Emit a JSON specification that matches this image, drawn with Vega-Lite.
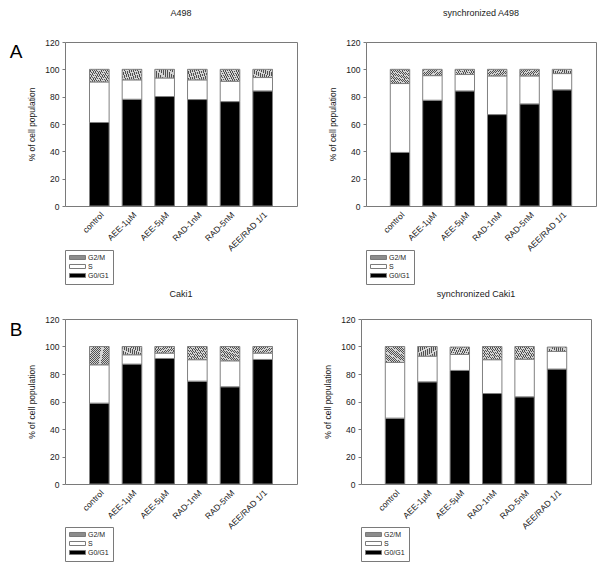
{
  "$schema": "https://vega.github.io/schema/vega-lite/v6.json",
  "padding": {"left": 9, "top": 8, "right": 0, "bottom": 0},
  "background": "white",
  "datasets": {
    "a498": [
      {"treatment": "control", "phase": "G0/G1", "ord": 1, "value": 61.1},
      {"treatment": "control", "phase": "S", "ord": 2, "value": 29.7},
      {"treatment": "control", "phase": "G2/M", "ord": 3, "value": 9.2},
      {"treatment": "AEE-1µM", "phase": "G0/G1", "ord": 1, "value": 78.1},
      {"treatment": "AEE-1µM", "phase": "S", "ord": 2, "value": 14.2},
      {"treatment": "AEE-1µM", "phase": "G2/M", "ord": 3, "value": 7.7},
      {"treatment": "AEE-5µM", "phase": "G0/G1", "ord": 1, "value": 80.1},
      {"treatment": "AEE-5µM", "phase": "S", "ord": 2, "value": 13.6},
      {"treatment": "AEE-5µM", "phase": "G2/M", "ord": 3, "value": 6.3},
      {"treatment": "RAD-1nM", "phase": "G0/G1", "ord": 1, "value": 77.9},
      {"treatment": "RAD-1nM", "phase": "S", "ord": 2, "value": 14.4},
      {"treatment": "RAD-1nM", "phase": "G2/M", "ord": 3, "value": 7.7},
      {"treatment": "RAD-5nM", "phase": "G0/G1", "ord": 1, "value": 76.4},
      {"treatment": "RAD-5nM", "phase": "S", "ord": 2, "value": 14.9},
      {"treatment": "RAD-5nM", "phase": "G2/M", "ord": 3, "value": 8.7},
      {"treatment": "AEE/RAD 1/1", "phase": "G0/G1", "ord": 1, "value": 84.2},
      {"treatment": "AEE/RAD 1/1", "phase": "S", "ord": 2, "value": 9.8},
      {"treatment": "AEE/RAD 1/1", "phase": "G2/M", "ord": 3, "value": 6.0}
    ],
    "sa498": [
      {"treatment": "control", "phase": "G0/G1", "ord": 1, "value": 39.2},
      {"treatment": "control", "phase": "S", "ord": 2, "value": 50.4},
      {"treatment": "control", "phase": "G2/M", "ord": 3, "value": 10.4},
      {"treatment": "AEE-1µM", "phase": "G0/G1", "ord": 1, "value": 77.4},
      {"treatment": "AEE-1µM", "phase": "S", "ord": 2, "value": 18.0},
      {"treatment": "AEE-1µM", "phase": "G2/M", "ord": 3, "value": 4.6},
      {"treatment": "AEE-5µM", "phase": "G0/G1", "ord": 1, "value": 84.2},
      {"treatment": "AEE-5µM", "phase": "S", "ord": 2, "value": 12.0},
      {"treatment": "AEE-5µM", "phase": "G2/M", "ord": 3, "value": 3.8},
      {"treatment": "RAD-1nM", "phase": "G0/G1", "ord": 1, "value": 66.9},
      {"treatment": "RAD-1nM", "phase": "S", "ord": 2, "value": 28.3},
      {"treatment": "RAD-1nM", "phase": "G2/M", "ord": 3, "value": 4.8},
      {"treatment": "RAD-5nM", "phase": "G0/G1", "ord": 1, "value": 74.7},
      {"treatment": "RAD-5nM", "phase": "S", "ord": 2, "value": 20.5},
      {"treatment": "RAD-5nM", "phase": "G2/M", "ord": 3, "value": 4.8},
      {"treatment": "AEE/RAD 1/1", "phase": "G0/G1", "ord": 1, "value": 85.0},
      {"treatment": "AEE/RAD 1/1", "phase": "S", "ord": 2, "value": 11.9},
      {"treatment": "AEE/RAD 1/1", "phase": "G2/M", "ord": 3, "value": 3.1}
    ],
    "caki": [
      {"treatment": "control", "phase": "G0/G1", "ord": 1, "value": 58.8},
      {"treatment": "control", "phase": "S", "ord": 2, "value": 27.9},
      {"treatment": "control", "phase": "G2/M", "ord": 3, "value": 13.3},
      {"treatment": "AEE-1µM", "phase": "G0/G1", "ord": 1, "value": 87.2},
      {"treatment": "AEE-1µM", "phase": "S", "ord": 2, "value": 6.8},
      {"treatment": "AEE-1µM", "phase": "G2/M", "ord": 3, "value": 6.0},
      {"treatment": "AEE-5µM", "phase": "G0/G1", "ord": 1, "value": 91.3},
      {"treatment": "AEE-5µM", "phase": "S", "ord": 2, "value": 3.9},
      {"treatment": "AEE-5µM", "phase": "G2/M", "ord": 3, "value": 4.8},
      {"treatment": "RAD-1nM", "phase": "G0/G1", "ord": 1, "value": 74.8},
      {"treatment": "RAD-1nM", "phase": "S", "ord": 2, "value": 15.6},
      {"treatment": "RAD-1nM", "phase": "G2/M", "ord": 3, "value": 9.6},
      {"treatment": "RAD-5nM", "phase": "G0/G1", "ord": 1, "value": 70.7},
      {"treatment": "RAD-5nM", "phase": "S", "ord": 2, "value": 18.9},
      {"treatment": "RAD-5nM", "phase": "G2/M", "ord": 3, "value": 10.4},
      {"treatment": "AEE/RAD 1/1", "phase": "G0/G1", "ord": 1, "value": 90.6},
      {"treatment": "AEE/RAD 1/1", "phase": "S", "ord": 2, "value": 4.6},
      {"treatment": "AEE/RAD 1/1", "phase": "G2/M", "ord": 3, "value": 4.8}
    ],
    "scaki": [
      {"treatment": "control", "phase": "G0/G1", "ord": 1, "value": 47.9},
      {"treatment": "control", "phase": "S", "ord": 2, "value": 40.5},
      {"treatment": "control", "phase": "G2/M", "ord": 3, "value": 11.6},
      {"treatment": "AEE-1µM", "phase": "G0/G1", "ord": 1, "value": 74.3},
      {"treatment": "AEE-1µM", "phase": "S", "ord": 2, "value": 18.7},
      {"treatment": "AEE-1µM", "phase": "G2/M", "ord": 3, "value": 7.0},
      {"treatment": "AEE-5µM", "phase": "G0/G1", "ord": 1, "value": 82.6},
      {"treatment": "AEE-5µM", "phase": "S", "ord": 2, "value": 11.6},
      {"treatment": "AEE-5µM", "phase": "G2/M", "ord": 3, "value": 5.4},
      {"treatment": "RAD-1nM", "phase": "G0/G1", "ord": 1, "value": 65.8},
      {"treatment": "RAD-1nM", "phase": "S", "ord": 2, "value": 24.6},
      {"treatment": "RAD-1nM", "phase": "G2/M", "ord": 3, "value": 9.6},
      {"treatment": "RAD-5nM", "phase": "G0/G1", "ord": 1, "value": 63.4},
      {"treatment": "RAD-5nM", "phase": "S", "ord": 2, "value": 27.4},
      {"treatment": "RAD-5nM", "phase": "G2/M", "ord": 3, "value": 9.2},
      {"treatment": "AEE/RAD 1/1", "phase": "G0/G1", "ord": 1, "value": 83.6},
      {"treatment": "AEE/RAD 1/1", "phase": "S", "ord": 2, "value": 12.8},
      {"treatment": "AEE/RAD 1/1", "phase": "G2/M", "ord": 3, "value": 3.2}
    ]
  },
  "vconcat": [
    {
      "title": {"text": "A", "orient": "left", "anchor": "end", "angle": 0, "fontSize": 19, "align": "left", "baseline": "top", "offset": 5, "dy": 34, "color": "#000"},
      "spacing": 30,
      "resolve": {"scale": {"fill": "independent"}},
      "hconcat": [
        {
          "title": "A498",
          "width": 232, "height": 164,
          "data": {"name": "a498"},
          "mark": {"type": "bar", "stroke": "#808080", "strokeWidth": 1},
          "encoding": {
            "x": {"field": "treatment", "type": "nominal", "sort": ["control", "AEE-1µM", "AEE-5µM", "RAD-1nM", "RAD-5nM", "AEE/RAD 1/1"], "scale": {"paddingInner": 0.4, "paddingOuter": 0.75}, "axis": {"title": null, "labelAngle": -45, "ticks": false, "domain": false, "labelPadding": 4}},
            "y": {"field": "value", "type": "quantitative", "stack": "zero", "scale": {"domain": [0, 120], "nice": false}, "axis": {"title": "% of cell population", "values": [0, 20, 40, 60, 80, 100, 120], "tickSize": 3, "domain": false, "labelPadding": 3, "titlePadding": 8}},
            "fill": {"field": "phase", "type": "nominal", "scale": {"domain": ["G2/M", "S", "G0/G1"], "range": ["#8c8c8c", "#ffffff", "#000000"]}, "legend": {"title": null, "orient": "none", "legendX": 0, "legendY": 208},
              "condition": {"test": "datum.phase === 'G2/M'", "value": {"gradient": "linear", "x1": 0, "y1": 0, "x2": 1, "y2": 1, "stops": [
                {"offset": 0, "color": "#505050"}, {"offset": 0.0222, "color": "#505050"}, {"offset": 0.0222, "color": "#d4d4d4"}, {"offset": 0.0556, "color": "#d4d4d4"},
                {"offset": 0.0556, "color": "#505050"}, {"offset": 0.0778, "color": "#505050"}, {"offset": 0.0778, "color": "#d4d4d4"}, {"offset": 0.1111, "color": "#d4d4d4"},
                {"offset": 0.1111, "color": "#505050"}, {"offset": 0.1333, "color": "#505050"}, {"offset": 0.1333, "color": "#d4d4d4"}, {"offset": 0.1667, "color": "#d4d4d4"},
                {"offset": 0.1667, "color": "#505050"}, {"offset": 0.1889, "color": "#505050"}, {"offset": 0.1889, "color": "#d4d4d4"}, {"offset": 0.2222, "color": "#d4d4d4"},
                {"offset": 0.2222, "color": "#505050"}, {"offset": 0.2444, "color": "#505050"}, {"offset": 0.2444, "color": "#d4d4d4"}, {"offset": 0.2778, "color": "#d4d4d4"},
                {"offset": 0.2778, "color": "#505050"}, {"offset": 0.3, "color": "#505050"}, {"offset": 0.3, "color": "#d4d4d4"}, {"offset": 0.3333, "color": "#d4d4d4"},
                {"offset": 0.3333, "color": "#505050"}, {"offset": 0.3556, "color": "#505050"}, {"offset": 0.3556, "color": "#d4d4d4"}, {"offset": 0.3889, "color": "#d4d4d4"},
                {"offset": 0.3889, "color": "#505050"}, {"offset": 0.4111, "color": "#505050"}, {"offset": 0.4111, "color": "#d4d4d4"}, {"offset": 0.4444, "color": "#d4d4d4"},
                {"offset": 0.4444, "color": "#505050"}, {"offset": 0.4667, "color": "#505050"}, {"offset": 0.4667, "color": "#d4d4d4"}, {"offset": 0.5, "color": "#d4d4d4"},
                {"offset": 0.5, "color": "#505050"}, {"offset": 0.5222, "color": "#505050"}, {"offset": 0.5222, "color": "#d4d4d4"}, {"offset": 0.5556, "color": "#d4d4d4"},
                {"offset": 0.5556, "color": "#505050"}, {"offset": 0.5778, "color": "#505050"}, {"offset": 0.5778, "color": "#d4d4d4"}, {"offset": 0.6111, "color": "#d4d4d4"},
                {"offset": 0.6111, "color": "#505050"}, {"offset": 0.6333, "color": "#505050"}, {"offset": 0.6333, "color": "#d4d4d4"}, {"offset": 0.6667, "color": "#d4d4d4"},
                {"offset": 0.6667, "color": "#505050"}, {"offset": 0.6889, "color": "#505050"}, {"offset": 0.6889, "color": "#d4d4d4"}, {"offset": 0.7222, "color": "#d4d4d4"},
                {"offset": 0.7222, "color": "#505050"}, {"offset": 0.7444, "color": "#505050"}, {"offset": 0.7444, "color": "#d4d4d4"}, {"offset": 0.7778, "color": "#d4d4d4"},
                {"offset": 0.7778, "color": "#505050"}, {"offset": 0.8, "color": "#505050"}, {"offset": 0.8, "color": "#d4d4d4"}, {"offset": 0.8333, "color": "#d4d4d4"},
                {"offset": 0.8333, "color": "#505050"}, {"offset": 0.8556, "color": "#505050"}, {"offset": 0.8556, "color": "#d4d4d4"}, {"offset": 0.8889, "color": "#d4d4d4"},
                {"offset": 0.8889, "color": "#505050"}, {"offset": 0.9111, "color": "#505050"}, {"offset": 0.9111, "color": "#d4d4d4"}, {"offset": 0.9444, "color": "#d4d4d4"},
                {"offset": 0.9444, "color": "#505050"}, {"offset": 0.9667, "color": "#505050"}, {"offset": 0.9667, "color": "#d4d4d4"}, {"offset": 1, "color": "#d4d4d4"}
              ]}}},
            "order": {"field": "ord", "type": "quantitative"}
          }
        },
        {
          "title": "synchronized A498",
          "width": 230, "height": 164,
          "data": {"name": "sa498"},
          "mark": {"type": "bar", "stroke": "#808080", "strokeWidth": 1},
          "encoding": {
            "x": {"field": "treatment", "type": "nominal", "sort": ["control", "AEE-1µM", "AEE-5µM", "RAD-1nM", "RAD-5nM", "AEE/RAD 1/1"], "scale": {"paddingInner": 0.4, "paddingOuter": 0.75}, "axis": {"title": null, "labelAngle": -45, "ticks": false, "domain": false, "labelPadding": 4}},
            "y": {"field": "value", "type": "quantitative", "stack": "zero", "scale": {"domain": [0, 120], "nice": false}, "axis": {"title": "% of cell population", "values": [0, 20, 40, 60, 80, 100, 120], "tickSize": 3, "domain": false, "labelPadding": 3, "titlePadding": 8}},
            "fill": {"field": "phase", "type": "nominal", "scale": {"domain": ["G2/M", "S", "G0/G1"], "range": ["#8c8c8c", "#ffffff", "#000000"]}, "legend": {"title": null, "orient": "none", "legendX": 0, "legendY": 208},
              "condition": {"test": "datum.phase === 'G2/M'", "value": {"gradient": "linear", "x1": 0, "y1": 0, "x2": 1, "y2": 1, "stops": [
                {"offset": 0, "color": "#505050"}, {"offset": 0.0222, "color": "#505050"}, {"offset": 0.0222, "color": "#d4d4d4"}, {"offset": 0.0556, "color": "#d4d4d4"},
                {"offset": 0.0556, "color": "#505050"}, {"offset": 0.0778, "color": "#505050"}, {"offset": 0.0778, "color": "#d4d4d4"}, {"offset": 0.1111, "color": "#d4d4d4"},
                {"offset": 0.1111, "color": "#505050"}, {"offset": 0.1333, "color": "#505050"}, {"offset": 0.1333, "color": "#d4d4d4"}, {"offset": 0.1667, "color": "#d4d4d4"},
                {"offset": 0.1667, "color": "#505050"}, {"offset": 0.1889, "color": "#505050"}, {"offset": 0.1889, "color": "#d4d4d4"}, {"offset": 0.2222, "color": "#d4d4d4"},
                {"offset": 0.2222, "color": "#505050"}, {"offset": 0.2444, "color": "#505050"}, {"offset": 0.2444, "color": "#d4d4d4"}, {"offset": 0.2778, "color": "#d4d4d4"},
                {"offset": 0.2778, "color": "#505050"}, {"offset": 0.3, "color": "#505050"}, {"offset": 0.3, "color": "#d4d4d4"}, {"offset": 0.3333, "color": "#d4d4d4"},
                {"offset": 0.3333, "color": "#505050"}, {"offset": 0.3556, "color": "#505050"}, {"offset": 0.3556, "color": "#d4d4d4"}, {"offset": 0.3889, "color": "#d4d4d4"},
                {"offset": 0.3889, "color": "#505050"}, {"offset": 0.4111, "color": "#505050"}, {"offset": 0.4111, "color": "#d4d4d4"}, {"offset": 0.4444, "color": "#d4d4d4"},
                {"offset": 0.4444, "color": "#505050"}, {"offset": 0.4667, "color": "#505050"}, {"offset": 0.4667, "color": "#d4d4d4"}, {"offset": 0.5, "color": "#d4d4d4"},
                {"offset": 0.5, "color": "#505050"}, {"offset": 0.5222, "color": "#505050"}, {"offset": 0.5222, "color": "#d4d4d4"}, {"offset": 0.5556, "color": "#d4d4d4"},
                {"offset": 0.5556, "color": "#505050"}, {"offset": 0.5778, "color": "#505050"}, {"offset": 0.5778, "color": "#d4d4d4"}, {"offset": 0.6111, "color": "#d4d4d4"},
                {"offset": 0.6111, "color": "#505050"}, {"offset": 0.6333, "color": "#505050"}, {"offset": 0.6333, "color": "#d4d4d4"}, {"offset": 0.6667, "color": "#d4d4d4"},
                {"offset": 0.6667, "color": "#505050"}, {"offset": 0.6889, "color": "#505050"}, {"offset": 0.6889, "color": "#d4d4d4"}, {"offset": 0.7222, "color": "#d4d4d4"},
                {"offset": 0.7222, "color": "#505050"}, {"offset": 0.7444, "color": "#505050"}, {"offset": 0.7444, "color": "#d4d4d4"}, {"offset": 0.7778, "color": "#d4d4d4"},
                {"offset": 0.7778, "color": "#505050"}, {"offset": 0.8, "color": "#505050"}, {"offset": 0.8, "color": "#d4d4d4"}, {"offset": 0.8333, "color": "#d4d4d4"},
                {"offset": 0.8333, "color": "#505050"}, {"offset": 0.8556, "color": "#505050"}, {"offset": 0.8556, "color": "#d4d4d4"}, {"offset": 0.8889, "color": "#d4d4d4"},
                {"offset": 0.8889, "color": "#505050"}, {"offset": 0.9111, "color": "#505050"}, {"offset": 0.9111, "color": "#d4d4d4"}, {"offset": 0.9444, "color": "#d4d4d4"},
                {"offset": 0.9444, "color": "#505050"}, {"offset": 0.9667, "color": "#505050"}, {"offset": 0.9667, "color": "#d4d4d4"}, {"offset": 1, "color": "#d4d4d4"}
              ]}}},
            "order": {"field": "ord", "type": "quantitative"}
          }
        }
      ]
    },
    {
      "title": {"text": "B", "orient": "left", "anchor": "end", "angle": 0, "fontSize": 19, "align": "left", "baseline": "top", "offset": 5, "dy": 31, "color": "#000"},
      "spacing": 25,
      "resolve": {"scale": {"fill": "independent"}},
      "hconcat": [
        {
          "title": {"text": "Caki1", "offset": 16},
          "width": 232, "height": 165,
          "data": {"name": "caki"},
          "mark": {"type": "bar", "stroke": "#808080", "strokeWidth": 1},
          "encoding": {
            "x": {"field": "treatment", "type": "nominal", "sort": ["control", "AEE-1µM", "AEE-5µM", "RAD-1nM", "RAD-5nM", "AEE/RAD 1/1"], "scale": {"paddingInner": 0.4, "paddingOuter": 0.75}, "axis": {"title": null, "labelAngle": -45, "ticks": false, "domain": false, "labelPadding": 4}},
            "y": {"field": "value", "type": "quantitative", "stack": "zero", "scale": {"domain": [0, 120], "nice": false}, "axis": {"title": "% of cell population", "values": [0, 20, 40, 60, 80, 100, 120], "tickSize": 3, "domain": false, "labelPadding": 3, "titlePadding": 8}},
            "fill": {"field": "phase", "type": "nominal", "scale": {"domain": ["G2/M", "S", "G0/G1"], "range": ["#8c8c8c", "#ffffff", "#000000"]}, "legend": {"title": null, "orient": "none", "legendX": 0, "legendY": 208},
              "condition": {"test": "datum.phase === 'G2/M'", "value": {"gradient": "linear", "x1": 0, "y1": 0, "x2": 1, "y2": 1, "stops": [
                {"offset": 0, "color": "#505050"}, {"offset": 0.0222, "color": "#505050"}, {"offset": 0.0222, "color": "#d4d4d4"}, {"offset": 0.0556, "color": "#d4d4d4"},
                {"offset": 0.0556, "color": "#505050"}, {"offset": 0.0778, "color": "#505050"}, {"offset": 0.0778, "color": "#d4d4d4"}, {"offset": 0.1111, "color": "#d4d4d4"},
                {"offset": 0.1111, "color": "#505050"}, {"offset": 0.1333, "color": "#505050"}, {"offset": 0.1333, "color": "#d4d4d4"}, {"offset": 0.1667, "color": "#d4d4d4"},
                {"offset": 0.1667, "color": "#505050"}, {"offset": 0.1889, "color": "#505050"}, {"offset": 0.1889, "color": "#d4d4d4"}, {"offset": 0.2222, "color": "#d4d4d4"},
                {"offset": 0.2222, "color": "#505050"}, {"offset": 0.2444, "color": "#505050"}, {"offset": 0.2444, "color": "#d4d4d4"}, {"offset": 0.2778, "color": "#d4d4d4"},
                {"offset": 0.2778, "color": "#505050"}, {"offset": 0.3, "color": "#505050"}, {"offset": 0.3, "color": "#d4d4d4"}, {"offset": 0.3333, "color": "#d4d4d4"},
                {"offset": 0.3333, "color": "#505050"}, {"offset": 0.3556, "color": "#505050"}, {"offset": 0.3556, "color": "#d4d4d4"}, {"offset": 0.3889, "color": "#d4d4d4"},
                {"offset": 0.3889, "color": "#505050"}, {"offset": 0.4111, "color": "#505050"}, {"offset": 0.4111, "color": "#d4d4d4"}, {"offset": 0.4444, "color": "#d4d4d4"},
                {"offset": 0.4444, "color": "#505050"}, {"offset": 0.4667, "color": "#505050"}, {"offset": 0.4667, "color": "#d4d4d4"}, {"offset": 0.5, "color": "#d4d4d4"},
                {"offset": 0.5, "color": "#505050"}, {"offset": 0.5222, "color": "#505050"}, {"offset": 0.5222, "color": "#d4d4d4"}, {"offset": 0.5556, "color": "#d4d4d4"},
                {"offset": 0.5556, "color": "#505050"}, {"offset": 0.5778, "color": "#505050"}, {"offset": 0.5778, "color": "#d4d4d4"}, {"offset": 0.6111, "color": "#d4d4d4"},
                {"offset": 0.6111, "color": "#505050"}, {"offset": 0.6333, "color": "#505050"}, {"offset": 0.6333, "color": "#d4d4d4"}, {"offset": 0.6667, "color": "#d4d4d4"},
                {"offset": 0.6667, "color": "#505050"}, {"offset": 0.6889, "color": "#505050"}, {"offset": 0.6889, "color": "#d4d4d4"}, {"offset": 0.7222, "color": "#d4d4d4"},
                {"offset": 0.7222, "color": "#505050"}, {"offset": 0.7444, "color": "#505050"}, {"offset": 0.7444, "color": "#d4d4d4"}, {"offset": 0.7778, "color": "#d4d4d4"},
                {"offset": 0.7778, "color": "#505050"}, {"offset": 0.8, "color": "#505050"}, {"offset": 0.8, "color": "#d4d4d4"}, {"offset": 0.8333, "color": "#d4d4d4"},
                {"offset": 0.8333, "color": "#505050"}, {"offset": 0.8556, "color": "#505050"}, {"offset": 0.8556, "color": "#d4d4d4"}, {"offset": 0.8889, "color": "#d4d4d4"},
                {"offset": 0.8889, "color": "#505050"}, {"offset": 0.9111, "color": "#505050"}, {"offset": 0.9111, "color": "#d4d4d4"}, {"offset": 0.9444, "color": "#d4d4d4"},
                {"offset": 0.9444, "color": "#505050"}, {"offset": 0.9667, "color": "#505050"}, {"offset": 0.9667, "color": "#d4d4d4"}, {"offset": 1, "color": "#d4d4d4"}
              ]}}},
            "order": {"field": "ord", "type": "quantitative"}
          }
        },
        {
          "title": {"text": "synchronized Caki1", "offset": 16},
          "width": 230, "height": 165,
          "data": {"name": "scaki"},
          "mark": {"type": "bar", "stroke": "#808080", "strokeWidth": 1},
          "encoding": {
            "x": {"field": "treatment", "type": "nominal", "sort": ["control", "AEE-1µM", "AEE-5µM", "RAD-1nM", "RAD-5nM", "AEE/RAD 1/1"], "scale": {"paddingInner": 0.4, "paddingOuter": 0.75}, "axis": {"title": null, "labelAngle": -45, "ticks": false, "domain": false, "labelPadding": 4}},
            "y": {"field": "value", "type": "quantitative", "stack": "zero", "scale": {"domain": [0, 120], "nice": false}, "axis": {"title": "% of cell population", "values": [0, 20, 40, 60, 80, 100, 120], "tickSize": 3, "domain": false, "labelPadding": 3, "titlePadding": 8}},
            "fill": {"field": "phase", "type": "nominal", "scale": {"domain": ["G2/M", "S", "G0/G1"], "range": ["#8c8c8c", "#ffffff", "#000000"]}, "legend": {"title": null, "orient": "none", "legendX": 0, "legendY": 208},
              "condition": {"test": "datum.phase === 'G2/M'", "value": {"gradient": "linear", "x1": 0, "y1": 0, "x2": 1, "y2": 1, "stops": [
                {"offset": 0, "color": "#505050"}, {"offset": 0.0222, "color": "#505050"}, {"offset": 0.0222, "color": "#d4d4d4"}, {"offset": 0.0556, "color": "#d4d4d4"},
                {"offset": 0.0556, "color": "#505050"}, {"offset": 0.0778, "color": "#505050"}, {"offset": 0.0778, "color": "#d4d4d4"}, {"offset": 0.1111, "color": "#d4d4d4"},
                {"offset": 0.1111, "color": "#505050"}, {"offset": 0.1333, "color": "#505050"}, {"offset": 0.1333, "color": "#d4d4d4"}, {"offset": 0.1667, "color": "#d4d4d4"},
                {"offset": 0.1667, "color": "#505050"}, {"offset": 0.1889, "color": "#505050"}, {"offset": 0.1889, "color": "#d4d4d4"}, {"offset": 0.2222, "color": "#d4d4d4"},
                {"offset": 0.2222, "color": "#505050"}, {"offset": 0.2444, "color": "#505050"}, {"offset": 0.2444, "color": "#d4d4d4"}, {"offset": 0.2778, "color": "#d4d4d4"},
                {"offset": 0.2778, "color": "#505050"}, {"offset": 0.3, "color": "#505050"}, {"offset": 0.3, "color": "#d4d4d4"}, {"offset": 0.3333, "color": "#d4d4d4"},
                {"offset": 0.3333, "color": "#505050"}, {"offset": 0.3556, "color": "#505050"}, {"offset": 0.3556, "color": "#d4d4d4"}, {"offset": 0.3889, "color": "#d4d4d4"},
                {"offset": 0.3889, "color": "#505050"}, {"offset": 0.4111, "color": "#505050"}, {"offset": 0.4111, "color": "#d4d4d4"}, {"offset": 0.4444, "color": "#d4d4d4"},
                {"offset": 0.4444, "color": "#505050"}, {"offset": 0.4667, "color": "#505050"}, {"offset": 0.4667, "color": "#d4d4d4"}, {"offset": 0.5, "color": "#d4d4d4"},
                {"offset": 0.5, "color": "#505050"}, {"offset": 0.5222, "color": "#505050"}, {"offset": 0.5222, "color": "#d4d4d4"}, {"offset": 0.5556, "color": "#d4d4d4"},
                {"offset": 0.5556, "color": "#505050"}, {"offset": 0.5778, "color": "#505050"}, {"offset": 0.5778, "color": "#d4d4d4"}, {"offset": 0.6111, "color": "#d4d4d4"},
                {"offset": 0.6111, "color": "#505050"}, {"offset": 0.6333, "color": "#505050"}, {"offset": 0.6333, "color": "#d4d4d4"}, {"offset": 0.6667, "color": "#d4d4d4"},
                {"offset": 0.6667, "color": "#505050"}, {"offset": 0.6889, "color": "#505050"}, {"offset": 0.6889, "color": "#d4d4d4"}, {"offset": 0.7222, "color": "#d4d4d4"},
                {"offset": 0.7222, "color": "#505050"}, {"offset": 0.7444, "color": "#505050"}, {"offset": 0.7444, "color": "#d4d4d4"}, {"offset": 0.7778, "color": "#d4d4d4"},
                {"offset": 0.7778, "color": "#505050"}, {"offset": 0.8, "color": "#505050"}, {"offset": 0.8, "color": "#d4d4d4"}, {"offset": 0.8333, "color": "#d4d4d4"},
                {"offset": 0.8333, "color": "#505050"}, {"offset": 0.8556, "color": "#505050"}, {"offset": 0.8556, "color": "#d4d4d4"}, {"offset": 0.8889, "color": "#d4d4d4"},
                {"offset": 0.8889, "color": "#505050"}, {"offset": 0.9111, "color": "#505050"}, {"offset": 0.9111, "color": "#d4d4d4"}, {"offset": 0.9444, "color": "#d4d4d4"},
                {"offset": 0.9444, "color": "#505050"}, {"offset": 0.9667, "color": "#505050"}, {"offset": 0.9667, "color": "#d4d4d4"}, {"offset": 1, "color": "#d4d4d4"}
              ]}}},
            "order": {"field": "ord", "type": "quantitative"}
          }
        }
      ]
    }
  ],
  "spacing": 4,
  "resolve": {"scale": {"fill": "independent"}},
  "config": {
    "font": "Liberation Sans",
    "view": {"stroke": "#7a7a7a", "strokeWidth": 1},
    "axis": {"grid": false, "tickColor": "#7a7a7a", "labelColor": "#1a1a1a", "labelFontSize": 8.5, "titleFontSize": 8.5, "titleFontWeight": "normal", "titleColor": "#1a1a1a", "labelFont": "Liberation Sans", "titleFont": "Liberation Sans"},
    "title": {"fontSize": 9, "fontWeight": "normal", "color": "#1a1a1a", "offset": 20, "font": "Liberation Sans"},
    "legend": {"symbolType": "M-1,-0.667H4.333V0.667H-1Z", "symbolSize": 36, "symbolStrokeColor": "#7a7a7a", "symbolStrokeWidth": 1, "labelFontSize": 7, "labelColor": "#1a1a1a", "labelFont": "Liberation Sans", "strokeColor": "#7a7a7a", "padding": 4, "rowPadding": 0, "labelOffset": 12}
  }
}
